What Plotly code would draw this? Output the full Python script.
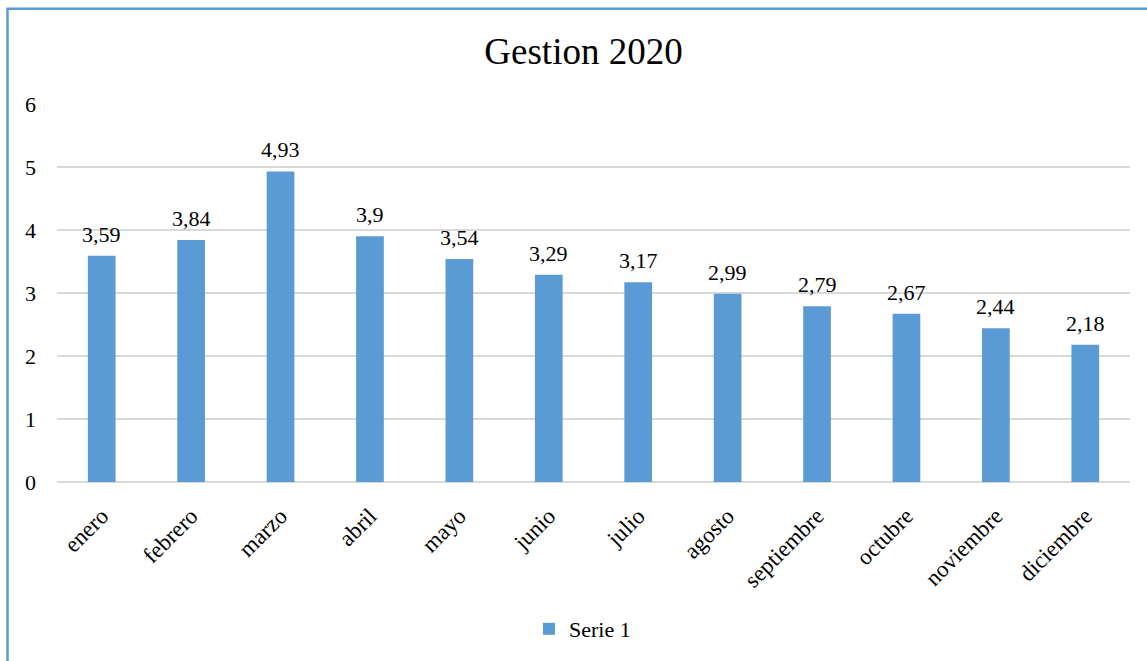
import plotly.graph_objects as go

months = ["enero", "febrero", "marzo", "abril", "mayo", "junio", "julio",
          "agosto", "septiembre", "octubre", "noviembre", "diciembre"]
values = [3.59, 3.84, 4.93, 3.9, 3.54, 3.29, 3.17, 2.99, 2.79, 2.67, 2.44, 2.18]
labels = [str(v).replace(".", ",") for v in values]
y_ticks = [0, 1, 2, 3, 4, 5, 6]

FONT = "Liberation Serif, Times New Roman, serif"
BLUE = "#5B9BD5"

fig = go.Figure()
fig.add_trace(go.Bar(
    x=months, y=values, name="Serie 1",
    marker=dict(color=BLUE, line=dict(width=0)),
))

# data labels placed through the axes, lifted a little above each bar
for m, v, t in zip(months, values, labels):
    fig.add_annotation(x=m, y=v, text=t, showarrow=False, xanchor="center", yanchor="bottom",
                       yshift=7, font=dict(family=FONT, size=22, color="#000000"))

W, H = 1147, 661
L, R, T, B = 57, 17, 104, 178
pw, ph = W - L - R, H - T - B

fig.update_layout(
    width=W, height=H,
    margin=dict(l=L, r=R, t=T, b=B),
    paper_bgcolor="white", plot_bgcolor="white",
    font=dict(family=FONT, size=22, color="#000000"),
    title=dict(text="Gestion 2020", xref="paper", x=(583.5 - L) / pw, xanchor="center",
               y=1 - 51 / H, yanchor="middle",
               font=dict(family=FONT, size=37, color="#000000")),
    bargap=0.69,
    showlegend=True,
    legend=dict(orientation="h", x=0.5 - 11 / pw, xanchor="center", y=-(629 - 483) / ph, yanchor="middle",
                font=dict(family=FONT, size=22), itemwidth=30),
    xaxis=dict(tickangle=-45, showgrid=False, showline=False, ticks="",
               tickfont=dict(family=FONT, size=23), ticklabelstandoff=15),
    yaxis=dict(range=[0, 6], tickvals=y_ticks, showgrid=True, gridcolor="#D9D9D9", gridwidth=1.5,
               zeroline=True, zerolinecolor="#D9D9D9", zerolinewidth=1.5,
               showline=False, ticks="", tickfont=dict(family=FONT, size=22), ticklabelstandoff=20),
    shapes=[dict(type="rect", xref="paper", yref="paper",
                 x0=(7.5 - L) / pw, x1=(W + 20 - L) / pw,
                 y0=-(H + 20 - T - ph) / ph, y1=(T - 8.5) / ph + 1,
                 line=dict(color=BLUE, width=2.5), fillcolor="rgba(0,0,0,0)", layer="above")],
)

fig.write_html("out.html", config={"displayModeBar": False},
               post_script="document.body.style.margin='0';")
